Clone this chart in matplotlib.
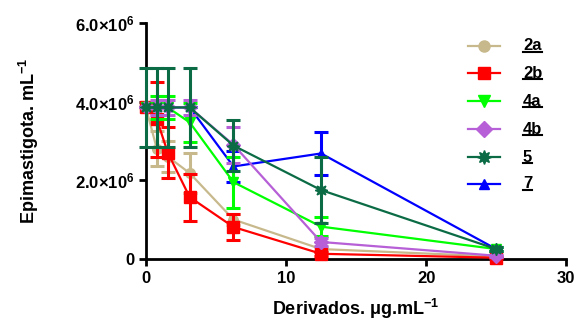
import numpy as np
import matplotlib
matplotlib.use("Agg")
import matplotlib.pyplot as plt
from matplotlib.lines import Line2D

plt.rcParams['font.family'] = ['Liberation Sans', 'DejaVu Sans']
plt.rcParams['font.weight'] = 'bold'
plt.rcParams['mathtext.fontset'] = 'custom'
plt.rcParams['mathtext.rm'] = 'Liberation Sans:bold'
plt.rcParams['mathtext.bf'] = 'Liberation Sans:bold'
plt.rcParams['mathtext.it'] = 'Liberation Sans:bold'
plt.rcParams['mathtext.default'] = 'bf'

# concentraciones (ug/mL)
conc = [0, 0.78, 1.56, 3.125, 6.25, 12.5, 25]

nombres = ['2a', '2b', '4a', '4b', '5', '7']
colores = ['#C8B98C', '#FF0000', '#00FF00', '#B65FD6', '#0B6B45', '#0000FF']
marcadores = ['o', 's', 'v', 'D', (8, 1, 0), '^']

# medias (celulas/mL)
y_2a = [3.85e6, 2.80e6, 2.60e6, 2.18e6, 1.00e6, 0.25e6, 0.06e6]
y_2b = [3.85e6, 3.55e6, 2.70e6, 1.57e6, 0.81e6, 0.13e6, 0.03e6]
y_4a = [3.85e6, 3.85e6, 3.85e6, 3.47e6, 1.95e6, 0.82e6, 0.25e6]
y_4b = [3.85e6, 3.85e6, 3.85e6, 3.85e6, 2.90e6, 0.43e6, 0.08e6]
y_5 = [3.85e6, 3.85e6, 3.85e6, 3.85e6, 2.88e6, 1.75e6, 0.25e6]
y_7 = [3.85e6, 3.85e6, 3.85e6, 3.85e6, 2.35e6, 2.68e6, 0.25e6]

# desviaciones
e_2a = [0, 0.45e6, 0.40e6, 0.50e6, 0.15e6, 0.05e6, 0.02e6]
e_2b = [0, 0.95e6, 0.65e6, 0.60e6, 0.33e6, 0.05e6, 0.02e6]
e_4a = [0, 0.30e6, 0.30e6, 0.50e6, 0.65e6, 0.25e6, 0.05e6]
e_4b = [0, 0.20e6, 0.20e6, 0.20e6, 0.45e6, 0.10e6, 0.02e6]
e_5 = [1.00e6, 1.00e6, 1.00e6, 1.00e6, 0.65e6, 0.85e6, 0.05e6]
e_7 = [0, 0, 0, 0, 0.40e6, 0.55e6, 0.05e6]

medias = [y_2a, y_2b, y_4a, y_4b, y_5, y_7]
errores = [e_2a, e_2b, e_4a, e_4b, e_5, e_7]
tamanos = [7, 8, 7, 7, 9, 6]

fig = plt.figure(figsize=(5.79, 3.22), dpi=100)
ax = fig.add_axes([0.252, 0.196, 0.726, 0.733])

orden = [5, 0, 1, 2, 3, 4]
for k, i in enumerate(orden):
    ax.errorbar(conc, medias[i], yerr=errores[i], color=colores[i],
                marker=marcadores[i], markersize=tamanos[i], linewidth=1.6,
                elinewidth=2.2, capsize=5, capthick=2.2, clip_on=False,
                zorder=3 + k)

ax.set_xlim(0, 30)
ax.set_ylim(0, 6e6)
ax.set_xticks([0, 10, 20, 30])
ax.set_yticks([0, 2e6, 4e6, 6e6])
ax.set_yticklabels(['0', r'2.0$\times$10$^6$', r'4.0$\times$10$^6$', r'6.0$\times$10$^6$'])
ax.tick_params(axis='both', direction='out', length=5, width=2, labelsize=12)
for lab in ax.get_xticklabels() + ax.get_yticklabels():
    lab.set_fontweight('bold')

ax.spines['top'].set_visible(False)
ax.spines['right'].set_visible(False)
ax.spines['left'].set_linewidth(2)
ax.spines['bottom'].set_linewidth(2)

ax.set_xlabel(r'Derivados. $\mu$g.mL$^{-1}$', fontsize=13, fontweight='bold', labelpad=8)
ax.set_ylabel(r'Epimastigota. mL$^{-1}$', fontsize=13, fontweight='bold', labelpad=24)

# leyenda manual con etiquetas subrayadas
filas_y = [46, 73, 101, 129, 157, 184]
textos = []
for i, nombre in enumerate(nombres):
    yf = 1 - filas_y[i] / 322
    fig.add_artist(Line2D([468 / 579, 500 / 579], [yf, yf], color=colores[i],
                          linewidth=1.6, transform=fig.transFigure))
    fig.add_artist(Line2D([484 / 579], [yf], color=colores[i], marker=marcadores[i],
                          markersize=tamanos[i] + 1, transform=fig.transFigure))
    t = fig.text(523 / 579, yf, nombre, fontsize=12, fontweight='bold',
                 va='center', ha='left')
    textos.append(t)

fig.canvas.draw()
inv = fig.transFigure.inverted()
for t in textos:
    bb = t.get_window_extent()
    (x0, y0), (x1, _) = inv.transform([[bb.x0, bb.y0], [bb.x1, bb.y1]])
    fig.add_artist(Line2D([x0, x1], [y0 + 0.004, y0 + 0.004], color='black',
                          linewidth=1.5, transform=fig.transFigure))

fig.savefig('out.png', dpi=100)
